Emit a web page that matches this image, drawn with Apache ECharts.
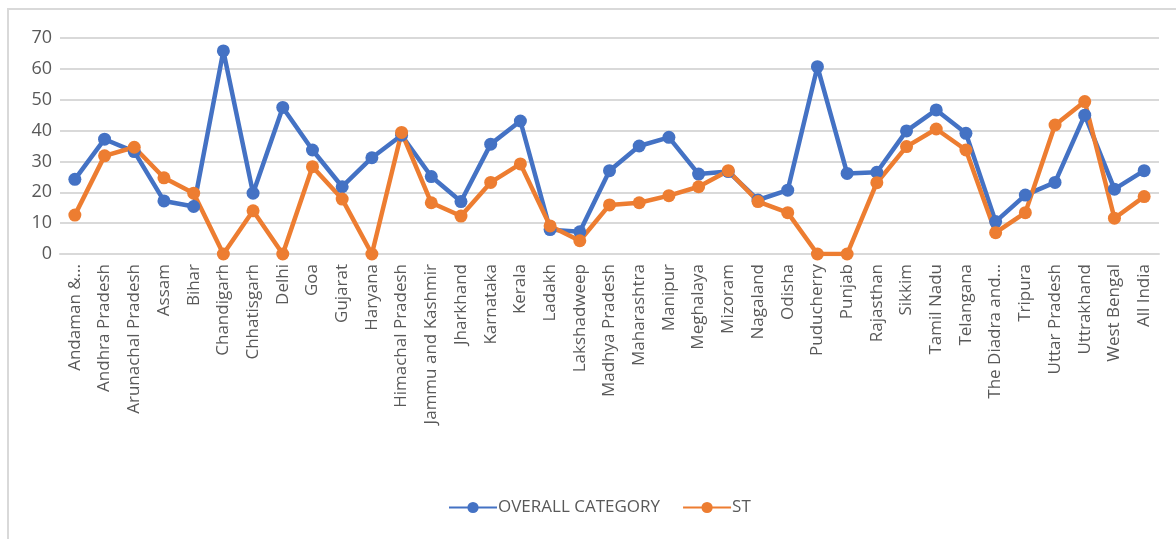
<!DOCTYPE html>
<html>
<head>
<meta charset="UTF-8">
<title>Overall vs ST</title>
<script src="https://cdn.jsdelivr.net/npm/echarts@6/dist/echarts.min.js"></script>
<style>
  html, body { margin: 0; padding: 0; background: #fff; }
  #frame { position: absolute; left: 7px; top: 8px; width: 1169px; height: 531px;
           border-left: 2px solid #d9d9d9; border-top: 2px solid #d9d9d9; box-sizing: border-box; }
  #main { position: absolute; left: 0; top: 0; width: 1176px; height: 539px; }
</style>
</head>
<body>
<div id="frame"></div>
<div id="main"></div>
<script>
// states
var states = ['Andaman &...', 'Andhra Pradesh', 'Arunachal Pradesh', 'Assam', 'Bihar', 'Chandigarh',
  'Chhatisgarh', 'Delhi', 'Goa', 'Gujarat', 'Haryana', 'Himachal Pradesh', 'Jammu and Kashmir',
  'Jharkhand', 'Karnataka', 'Kerala', 'Ladakh', 'Lakshadweep', 'Madhya Pradesh', 'Maharashtra',
  'Manipur', 'Meghalaya', 'Mizoram', 'Nagaland', 'Odisha', 'Puducherry', 'Punjab', 'Rajasthan',
  'Sikkim', 'Tamil Nadu', 'Telangana', 'The Diadra and...', 'Tripura', 'Uttar Pradesh',
  'Uttrakhand', 'West Bengal', 'All India'];

var overall = [24.2, 37.2, 33.2, 17.2, 15.4, 65.8, 19.7, 47.5, 33.7, 21.8, 31.2, 38.5, 25.1,
  17.0, 35.6, 43.1, 7.9, 7.2, 27.0, 35.0, 37.8, 25.9, 26.7, 17.5, 20.7, 60.7, 26.1, 26.5,
  39.9, 46.7, 39.1, 10.5, 19.1, 23.2, 45.0, 21.0, 27.0];

var st = [12.6, 31.8, 34.6, 24.7, 19.7, 0, 14.0, 0, 28.3, 17.8, 0, 39.4, 16.6,
  12.3, 23.2, 29.2, 9.1, 4.3, 15.9, 16.6, 18.9, 21.8, 27.0, 17.0, 13.4, 0, 0, 23.1,
  34.8, 40.5, 33.7, 6.9, 13.4, 41.8, 49.4, 11.6, 18.6];

var yTicks = { min: 0, max: 70, interval: 10 };

var myChart = echarts.init(document.getElementById('main'));

function lineSeries(name, data, color) {
  return {
    name: name,
    type: 'line',
    data: data,
    symbol: 'circle',
    symbolSize: 13,
    lineStyle: { width: 4.5, color: color },
    itemStyle: { color: color },
    emphasis: { disabled: true }
  };
}

myChart.setOption({
  animation: false,
  grid: { left: 60, right: 17, top: 38, bottom: 285, containLabel: false },
  legend: {
    bottom: 23,
    left: 448,
    padding: 0,
    itemWidth: 48,
    itemHeight: 14,
    itemGap: 22,
    textStyle: { fontFamily: 'Open Sans', fontSize: 17, color: '#595959', padding: [0, 0, 0, -4] },
    data: ['OVERALL CATEGORY', 'ST']
  },
  xAxis: {
    type: 'category',
    data: states,
    boundaryGap: true,
    axisLine: { lineStyle: { color: '#d9d9d9', width: 2 } },
    axisTick: { show: false },
    axisLabel: {
      rotate: 90,
      interval: 0,
      margin: 10,
      fontFamily: 'Open Sans',
      fontSize: 17,
      color: '#595959'
    }
  },
  yAxis: {
    type: 'value',
    min: yTicks.min,
    max: yTicks.max,
    interval: yTicks.interval,
    axisLine: { show: false },
    axisTick: { show: false },
    splitLine: { lineStyle: { color: '#d9d9d9', width: 2 } },
    axisLabel: {
      margin: 8,
      fontFamily: 'Open Sans',
      fontSize: 18,
      color: '#595959'
    }
  },
  series: [
    lineSeries('OVERALL CATEGORY', overall, '#4472C4'),
    lineSeries('ST', st, '#ED7D31')
  ]
});
</script>
</body>
</html>
